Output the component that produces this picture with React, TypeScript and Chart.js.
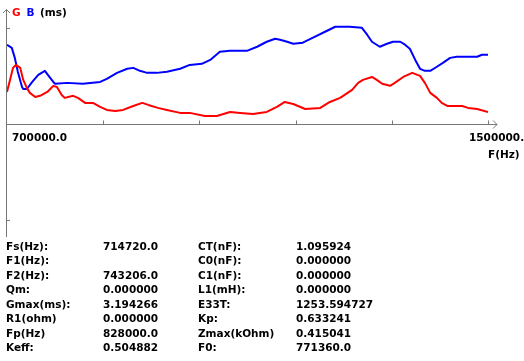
import React, { useEffect, useRef } from "react";
import { Chart, registerables } from "chart.js";

Chart.register(...registerables);

// ---- axis definition ----
const X_MIN = 700000;
const X_MAX = 1500000;
const Y_MIN = -6.1;
const Y_MAX = 6.1;
const xTicks = [860000, 1020000, 1180000, 1340000, 1500000];
const yTicks = [5.2, -5.2];
const xStartLabel = "700000.0";
const xEndLabel = "1500000.";
const xAxisTitle = "F(Hz)";
const yTitleParts = ["G", "B", "(ms)"];

// ---- G (conductance, ms) ----
const gFreq = [
  700000, 705000, 710000, 714720, 722000, 727000, 733000, 738000, 747000, 755000,
  767000, 777000, 783000, 791000, 796000, 810000, 818000, 830000, 843000, 855000,
  866000, 880000, 893000, 910000, 925000, 935000, 951000, 966000, 988000, 1004000,
  1029000, 1049000, 1071000, 1088000, 1109000, 1132000, 1149000, 1162000, 1176000, 1196000,
  1221000, 1237000, 1254000, 1274000, 1284000, 1292000, 1307000, 1315000, 1324000, 1337000,
  1345000, 1359000, 1374000, 1387000, 1395000, 1404000, 1415000, 1423000, 1433000, 1445000,
  1457000, 1467000, 1482000, 1500000,
];
const gVals = [
  1.73, 2.38, 3.03, 3.19, 3.03, 2.38, 1.95, 1.68, 1.46, 1.52,
  1.73, 2.06, 2.0, 1.57, 1.41, 1.52, 1.41, 1.14, 1.14, 0.92,
  0.76, 0.7, 0.76, 0.97, 1.14, 1.03, 0.87, 0.76, 0.6, 0.6,
  0.43, 0.43, 0.65, 0.6, 0.54, 0.65, 0.92, 1.19, 1.08, 0.81,
  0.87, 1.19, 1.41, 1.84, 2.22, 2.38, 2.54, 2.38, 2.17, 2.06,
  2.22, 2.54, 2.76, 2.6, 2.22, 1.68, 1.41, 1.14, 0.97, 0.97,
  0.97, 0.87, 0.81, 0.65,
];

// ---- B (susceptance, ms) ----
const bFreq = [
  700000, 708000, 713000, 718000, 725000, 727000, 733000, 742000, 752000, 763000,
  768000, 777000, 780000, 800000, 826000, 855000, 866000, 883000, 900000, 910000,
  921000, 933000, 949000, 966000, 988000, 1004000, 1024000, 1038000, 1054000, 1071000,
  1099000, 1116000, 1132000, 1146000, 1154000, 1166000, 1176000, 1192000, 1209000, 1229000,
  1246000, 1270000, 1290000, 1299000, 1307000, 1320000, 1332000, 1342000, 1354000, 1362000,
  1370000, 1379000, 1387000, 1395000, 1404000, 1415000, 1425000, 1437000, 1448000, 1465000,
  1482000, 1490000, 1500000,
];
const bVals = [
  4.28, 4.11, 3.57, 2.82, 2.0, 1.89, 1.89, 2.27, 2.65, 2.87,
  2.65, 2.27, 2.17, 2.22, 2.17, 2.27, 2.44, 2.76, 2.98, 3.03,
  2.87, 2.76, 2.76, 2.82, 2.98, 3.19, 3.25, 3.46, 3.9, 3.95,
  3.95, 4.17, 4.44, 4.6, 4.55, 4.44, 4.33, 4.39, 4.66, 4.98,
  5.25, 5.25, 5.2, 4.82, 4.44, 4.17, 4.33, 4.44, 4.44, 4.28,
  4.06, 3.46, 2.98, 2.87, 2.87, 3.09, 3.3, 3.57, 3.63, 3.63,
  3.63, 3.74, 3.74,
];

// ---- parameter table ----
const infoLabels1 = ["Fs(Hz):", "F1(Hz):", "F2(Hz):", "Qm:", "Gmax(ms):", "R1(ohm)", "Fp(Hz)", "Keff:"];
const infoValues1 = ["714720.0", "", "743206.0", "0.000000", "3.194266", "0.000000", "828000.0", "0.504882"];
const infoLabels2 = ["CT(nF):", "C0(nF):", "C1(nF):", "L1(mH):", "E33T:", "Kp:", "Zmax(kOhm)", "F0:"];
const infoValues2 = ["1.095924", "0.000000", "0.000000", "0.000000", "1253.594727", "0.633241", "0.415041", "771360.0"];

const AXIS_COLOR = "#777777";
const FONT = 'bold 10.5px "DejaVu Sans"';

const axesPlugin = {
  id: "customAxes",
  beforeDatasetsDraw(chart: any) {
    const ctx = chart.ctx;
    const xs = chart.scales.x;
    const ys = chart.scales.y;
    const x0 = Math.round(xs.getPixelForValue(X_MIN)) - 0.5;
    const y0 = Math.round(ys.getPixelForValue(0)) + 0.5;
    const xr = xs.getPixelForValue(X_MAX);
    ctx.save();
    ctx.strokeStyle = AXIS_COLOR;
    ctx.lineWidth = 1;
    ctx.beginPath();
    // y axis with arrow
    ctx.moveTo(x0, 9.5);
    ctx.lineTo(x0, ys.bottom);
    ctx.moveTo(x0 - 3.5, 13);
    ctx.lineTo(x0, 9.5);
    ctx.lineTo(x0 + 3.5, 13);
    // x axis with arrow
    ctx.moveTo(x0, y0);
    ctx.lineTo(xr + 9, y0);
    ctx.moveTo(xr + 5, y0 - 4);
    ctx.lineTo(xr + 9, y0);
    ctx.lineTo(xr + 5, y0 + 4);
    xTicks.forEach((v) => {
      const px = Math.round(xs.getPixelForValue(v)) + 0.5;
      ctx.moveTo(px, y0 - 4);
      ctx.lineTo(px, y0);
    });
    yTicks.forEach((v) => {
      const py = Math.round(ys.getPixelForValue(v)) + 0.5;
      ctx.moveTo(x0, py);
      ctx.lineTo(x0 + 3.5, py);
    });
    ctx.stroke();
    ctx.restore();
  },
  afterDraw(chart: any) {
    const ctx = chart.ctx;
    const xs = chart.scales.x;
    const ys = chart.scales.y;
    const y0 = ys.getPixelForValue(0);
    ctx.save();
    ctx.font = FONT;
    ctx.textBaseline = "alphabetic";
    // y title
    const colors = ["#ff0000", "#0000ff", "#000000"];
    const tx = [12, 26.5, 40];
    yTitleParts.forEach((t, i) => {
      ctx.fillStyle = colors[i];
      ctx.fillText(t, tx[i], 16);
    });
    ctx.fillStyle = "#000000";
    ctx.textAlign = "left";
    ctx.fillText(xStartLabel, xs.getPixelForValue(X_MIN) + 5, y0 + 17);
    ctx.fillText(xEndLabel, xs.getPixelForValue(X_MAX) - 19, y0 + 17);
    ctx.fillText(xAxisTitle, xs.getPixelForValue(X_MAX), y0 + 34);
    // parameter table
    const rowY = (i: number) => 250 + i * 14.42;
    infoLabels1.forEach((t, i) => ctx.fillText(t, 6, rowY(i)));
    infoValues1.forEach((t, i) => ctx.fillText(t, 103, rowY(i)));
    infoLabels2.forEach((t, i) => ctx.fillText(t, 198, rowY(i)));
    infoValues2.forEach((t, i) => ctx.fillText(t, 296, rowY(i)));
    ctx.restore();
  },
};

export default function App() {
  const ref = useRef<HTMLCanvasElement | null>(null);
  useEffect(() => {
    if (!ref.current) return;
    const toPts = (xsArr: number[], ysArr: number[]) => xsArr.map((x, i) => ({ x, y: ysArr[i] }));
    const chart = new Chart(ref.current, {
      type: "line",
      data: {
        datasets: [
          {
            label: "G",
            data: toPts(gFreq, gVals),
            borderColor: "#ff0000",
            borderWidth: 2,
            pointRadius: 0,
            tension: 0,
            fill: false,
            borderJoinStyle: "round",
          },
          {
            label: "B",
            data: toPts(bFreq, bVals),
            borderColor: "#0000ff",
            borderWidth: 2,
            pointRadius: 0,
            tension: 0,
            fill: false,
            borderJoinStyle: "round",
          },
        ],
      },
      options: {
        responsive: false,
        animation: false,
        devicePixelRatio: 1,
        layout: { padding: { left: 7, right: 36, top: 11, bottom: 124 } },
        plugins: { legend: { display: false }, tooltip: { enabled: false } },
        scales: {
          x: { type: "linear", min: X_MIN, max: X_MAX, display: false },
          y: { type: "linear", min: Y_MIN, max: Y_MAX, display: false },
        },
      },
      plugins: [axesPlugin],
    });
    return () => chart.destroy();
  }, []);
  return (
    <div style={{ position: "fixed", left: 0, top: 0, width: 524, height: 361, background: "#ffffff" }}>
      <canvas ref={ref} width={524} height={361} style={{ display: "block", width: 524, height: 361 }} />
    </div>
  );
}
